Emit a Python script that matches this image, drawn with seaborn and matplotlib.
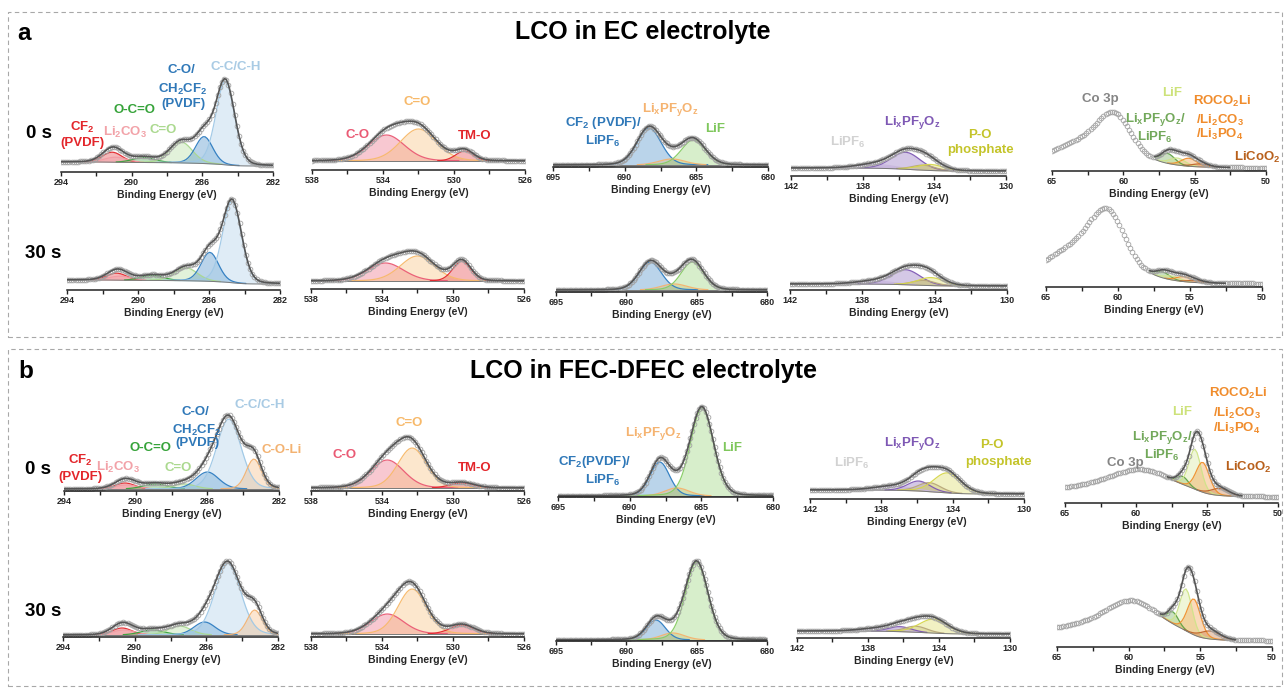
import numpy as np
import matplotlib
matplotlib.use("Agg")
import matplotlib.pyplot as plt
from matplotlib.patches import Rectangle
import seaborn as sns

# ---------------- DATA (peak fits) ----------------
# energies in eV, FWHM in eV, heights in arbitrary intensity units
C1S_TICKS = [294, 290, 286, 282]
O1S_TICKS = [538, 534, 530, 526]
F1S_TICKS = [695, 690, 685, 680]
P2P_TICKS = [142, 138, 134, 130]
CO_TICKS = [65, 60, 55, 50]

# ---- panel a, 0 s
A0_C1S_CEN = [291.1, 290.9, 289.3, 287.2, 285.9, 284.7]
A0_C1S_FWHM = [1.3, 1.5, 1.5, 1.5, 1.15, 1.25]
A0_C1S_AMP = [10, 5, 5, 21, 27, 84]
A0_C1S_BG = [10, 6]
A0_O1S_CEN = [533.8, 532.0, 529.4]
A0_O1S_FWHM = [2.4, 2.4, 1.2]
A0_O1S_AMP = [26, 32, 10]
A0_O1S_BG = [9, 9]
A0_F1S_CEN = [688.3, 686.7, 685.2]
A0_F1S_FWHM = [2.0, 2.2, 2.0]
A0_F1S_AMP = [37, 6, 25]
A0_F1S_BG = [2, 2]
A0_P2P_CEN = [137.3, 135.6, 134.6, 134.2]
A0_P2P_FWHM = [2.4, 1.9, 1.5, 1.7]
A0_P2P_AMP = [4, 17, 5, 6]
A0_P2P_BG = [8, 5]
A0_LI_CEN = [56.9, 56.2, 55.4, 54.6]
A0_LI_FWHM = [1.2, 1.3, 1.3, 1.4]
A0_LI_AMP = [10, 7, 8, 3]
A0_LI_BG = [4, 3]
A0_CO3P_CEN = [60.6, 62.4]
A0_CO3P_FWHM = [2.6, 6.0]
A0_CO3P_AMP = [34, 27]

# ---- panel a, 30 s
A1_C1S_CEN = [291.2, 291.0, 289.2, 287.3, 285.95, 284.7]
A1_C1S_FWHM = [1.3, 1.5, 1.5, 1.5, 1.15, 1.25]
A1_C1S_AMP = [7, 4, 5, 13, 29, 82]
A1_C1S_BG = [10, 6]
A1_O1S_CEN = [533.8, 532.0, 529.5]
A1_O1S_FWHM = [2.4, 2.3, 1.2]
A1_O1S_AMP = [18, 25, 20]
A1_O1S_BG = [8, 8]
A1_F1S_CEN = [688.3, 686.6, 685.3]
A1_F1S_FWHM = [1.9, 2.2, 1.9]
A1_F1S_AMP = [28, 6, 28]
A1_F1S_BG = [2, 2]
A1_P2P_CEN = [137.3, 135.6, 134.6, 134.2]
A1_P2P_FWHM = [2.4, 1.9, 1.5, 1.7]
A1_P2P_AMP = [3, 15, 5, 8]
A1_P2P_BG = [6, 4]
A1_LI_CEN = [56.9, 56.2, 55.4, 54.6]
A1_LI_FWHM = [1.2, 1.3, 1.3, 1.4]
A1_LI_AMP = [6, 4, 5, 2]
A1_LI_BG = [4, 3]
A1_CO3P_CEN = [60.7, 62.4]
A1_CO3P_FWHM = [2.7, 6.0]
A1_CO3P_AMP = [44, 38]

# ---- panel b, 0 s
B0_C1S_CEN = [290.6, 290.5, 288.9, 287.3, 286.0, 284.8, 283.4]
B0_C1S_FWHM = [1.3, 1.5, 1.6, 1.5, 1.5, 1.6, 1.0]
B0_C1S_AMP = [6, 4, 5, 5, 17, 70, 30]
B0_C1S_BG = [2, 2]
B0_O1S_CEN = [533.7, 532.3, 529.5]
B0_O1S_FWHM = [2.2, 1.9, 1.6]
B0_O1S_AMP = [28, 40, 5]
B0_O1S_BG = [3, 3]
B0_F1S_CEN = [687.9, 686.7, 684.95]
B0_F1S_FWHM = [1.6, 2.0, 1.9]
B0_F1S_AMP = [34, 8, 88]
B0_F1S_BG = [1, 1]
B0_P2P_CEN = [137.3, 135.9, 135.3, 134.3]
B0_P2P_FWHM = [2.5, 1.5, 1.5, 1.8]
B0_P2P_AMP = [4, 10, 9, 20]
B0_P2P_BG = [9, 5]
B0_LI_CEN = [56.7, 55.85, 55.3, 54.1]
B0_LI_FWHM = [0.9, 1.0, 1.1, 1.5]
B0_LI_AMP = [8, 40, 30, 7]
B0_LI_BG = [11, 6]
B0_CO3P_CEN = [59.5, 61.5]
B0_CO3P_FWHM = [4.5, 7.0]
B0_CO3P_AMP = [16, 8]

# ---- panel b, 30 s
B1_C1S_CEN = [290.7, 290.6, 289.0, 287.5, 286.1, 284.8, 283.3]
B1_C1S_FWHM = [1.3, 1.5, 1.6, 1.5, 1.4, 1.7, 1.0]
B1_C1S_AMP = [7, 5, 5, 9, 13, 72, 25]
B1_C1S_BG = [2, 2]
B1_O1S_CEN = [533.7, 532.3, 529.5]
B1_O1S_FWHM = [2.2, 1.9, 1.6]
B1_O1S_AMP = [20, 45, 9]
B1_O1S_BG = [3, 3]
B1_F1S_CEN = [687.9, 686.7, 685.0]
B1_F1S_FWHM = [1.6, 2.0, 1.9]
B1_F1S_AMP = [20, 7, 78]
B1_F1S_BG = [1, 1]
B1_P2P_CEN = [137.3, 136.2, 135.3, 134.3]
B1_P2P_FWHM = [2.5, 1.5, 1.5, 1.9]
B1_P2P_AMP = [3, 5, 6, 14]
B1_P2P_BG = [7, 4]
B1_LI_CEN = [56.9, 56.0, 55.45, 54.3]
B1_LI_FWHM = [0.9, 1.0, 1.1, 1.6]
B1_LI_AMP = [12, 42, 36, 8]
B1_LI_BG = [14, 6]
B1_CO3P_CEN = [59.7, 61.5]
B1_CO3P_FWHM = [4.0, 7.0]
B1_CO3P_AMP = [24, 10]

# ---------------- STYLE ----------------
C1S_COLORS = ['#e3262b', '#f19ca4', '#36a33a', '#a9d88f', '#2f7dc1', '#9fc8e6', '#f3b271']
O1S_COLORS = ['#ea5a74', '#f7b96a', '#e3262b']
F1S_COLORS = ['#2f7dc1', '#f5b36e', '#86cc63']
P2P_COLORS = ['#c9b8de', '#7e58b4', '#b8a77a', '#d6d64a']
LI_COLORS = ['#5fa345', '#cfe48a', '#f0902e', '#c0652a']

W, H, DPI = 1287, 691, 100
AX_H = 120

sns.set_theme(style="white")
plt.rcParams['font.family'] = ['Liberation Sans', 'DejaVu Sans']
plt.rcParams['mathtext.fontset'] = 'custom'
plt.rcParams['mathtext.rm'] = 'Liberation Sans'
plt.rcParams['mathtext.it'] = 'Liberation Sans:italic'
plt.rcParams['mathtext.bf'] = 'Liberation Sans:bold'
plt.rcParams['mathtext.default'] = 'bf'

fig = plt.figure(figsize=(W / DPI, H / DPI), dpi=DPI)


def fx(px):
    return px / W


def fy(py):
    return 1 - py / H


def pv(x, c, w, a, eta=0.15):
    d = (x - c) / w
    return a * ((1 - eta) * np.exp(-4 * np.log(2) * d ** 2) + eta / (1 + 4 * d ** 2))


def make_ax(pos, ticks):
    x0, x1, yb = pos
    ax = fig.add_axes([fx(x0), fy(yb), (x1 - x0) / W, AX_H / H])
    ax.patch.set_alpha(0)
    ax.set_xlim(max(ticks), min(ticks))
    ax.set_ylim(0, AX_H)
    for s in ['top', 'left', 'right']:
        ax.spines[s].set_visible(False)
    ax.spines['bottom'].set_color('#222222')
    ax.spines['bottom'].set_linewidth(1.1)
    ax.set_xticks(ticks)
    step = ticks[0] - ticks[1]
    ax.set_xticks([t - step / 2 for t in ticks[:-1]], minor=True)
    ax.set_xticklabels([str(t) for t in ticks], fontsize=6.5, fontweight='bold')
    ax.tick_params(axis='x', which='both', direction='out', length=3, width=1.0,
                   color='#222222', pad=1.5, bottom=True)
    ax.set_yticks([])
    return ax


def draw(ax, ticks, cen, fwhm, amp, colors, bg, co3p=None, fit_range=None, step=0.12):
    lo, hi = min(ticks), max(ticks)
    x = np.round(np.arange(lo, hi + 1e-9, step), 4)
    comps = [pv(x, c, w, a) for c, w, a in zip(cen, fwhm, amp)]
    total = np.sum(comps, axis=0)
    cum = np.cumsum(total)
    S = cum / cum[-1]
    base = bg[1] + (bg[0] - bg[1]) * S
    if co3p is not None:
        for c, w, a in zip(*co3p):
            base = base + pv(x, c, w, a)
    env = base + total
    if fit_range is None:
        fm = np.ones_like(x, dtype=bool)
    else:
        fm = (x >= fit_range[0]) & (x <= fit_range[1])
    for comp, col in zip(comps, colors):
        m = (comp > 0.3) & fm
        ax.fill_between(x, base, base + comp, where=m, color=col, alpha=0.33, lw=0)
        yy = np.where(m, base + comp, np.nan)
        ax.plot(x, yy, color=col, lw=0.9, alpha=0.95)
    ax.plot(x[fm], base[fm], color='#7a7a7a', lw=0.7)
    sns.lineplot(x=x, y=env, ax=ax, marker='o', linestyle='', markersize=3.4,
                 markerfacecolor='none', markeredgecolor='#a2a2a2', markeredgewidth=0.6,
                 estimator=None, sort=False, color='#a2a2a2')
    sns.lineplot(x=x[fm], y=env[fm], ax=ax, color='#555555', lw=1.2,
                 estimator=None, sort=False)
    ax.set_xlabel('Binding Energy (eV)', fontsize=7.5, fontweight='bold', labelpad=2)
    ax.set_ylabel('')


ROWS = [
    ([(61, 273, 172), (312, 525, 170), (553, 768, 167), (791, 1006, 176), (1052, 1266, 171)], 'A0'),
    ([(67, 280, 290), (311, 524, 289), (556, 767, 292), (790, 1007, 290), (1046, 1262, 287)], 'A1'),
    ([(64, 279, 491), (311, 524, 491), (558, 773, 497), (810, 1024, 499), (1065, 1278, 503)], 'B0'),
    ([(63, 278, 637), (311, 524, 637), (556, 767, 641), (797, 1010, 638), (1057, 1272, 647)], 'B1'),
]
G = globals()
for poss, key in ROWS:
    ax = make_ax(poss[0], C1S_TICKS)
    draw(ax, C1S_TICKS, G[key + '_C1S_CEN'], G[key + '_C1S_FWHM'], G[key + '_C1S_AMP'],
         C1S_COLORS, G[key + '_C1S_BG'])
    ax = make_ax(poss[1], O1S_TICKS)
    draw(ax, O1S_TICKS, G[key + '_O1S_CEN'], G[key + '_O1S_FWHM'], G[key + '_O1S_AMP'],
         O1S_COLORS, G[key + '_O1S_BG'])
    ax = make_ax(poss[2], F1S_TICKS)
    draw(ax, F1S_TICKS, G[key + '_F1S_CEN'], G[key + '_F1S_FWHM'], G[key + '_F1S_AMP'],
         F1S_COLORS, G[key + '_F1S_BG'])
    ax = make_ax(poss[3], P2P_TICKS)
    draw(ax, P2P_TICKS, G[key + '_P2P_CEN'], G[key + '_P2P_FWHM'], G[key + '_P2P_AMP'],
         P2P_COLORS, G[key + '_P2P_BG'])
    ax = make_ax(poss[4], CO_TICKS)
    draw(ax, CO_TICKS, G[key + '_LI_CEN'], G[key + '_LI_FWHM'], G[key + '_LI_AMP'],
         LI_COLORS, G[key + '_LI_BG'],
         co3p=(G[key + '_CO3P_CEN'], G[key + '_CO3P_FWHM'], G[key + '_CO3P_AMP']),
         fit_range=(52.5, 57.8), step=0.15)

# ---------------- frames, titles, labels ----------------
for (top, bot) in [(12, 337), (349, 686)]:
    fig.add_artist(Rectangle((fx(8), fy(bot)), (1282 - 8) / W, (bot - top) / H, fill=False,
                             ls=(0, (4, 3)), lw=0.8, ec='#a8a8a8', transform=fig.transFigure))


def T(x, y, s, c='black', fs=9.5, **kw):
    fig.text(fx(x), fy(y), s, color=c, fontsize=fs, fontweight='bold', ha='center', va='center', **kw)


T(643, 32, 'LCO in EC electrolyte', fs=18)
T(643, 371, 'LCO in FEC-DFEC electrolyte', fs=18)
T(24, 33, 'a', fs=17.5)
T(26, 371, 'b', fs=17.5)
T(39, 133, '0 s', fs=13.5)
T(43, 253, '30 s', fs=13.5)
T(38, 470, '0 s', fs=13.5)
T(43, 612, '30 s', fs=13.5)

# panel a labels
T(236, 67, 'C-C/C-H', '#a9cbe4')
T(181, 70, 'C-O/', '#2f78b8')
T(183, 89, 'CH$_2$CF$_2$', '#2f78b8')
T(183, 104, '(PVDF)', '#2f78b8')
T(135, 110, 'O-C=O', '#36a33a')
T(82, 127, 'CF$_2$', '#e3262b')
T(82, 143, '(PVDF)', '#e3262b')
T(125, 132, 'Li$_2$CO$_3$', '#f2a2a8')
T(163, 130, 'C=O', '#abd98f')
T(417, 102, 'C=O', '#f7b96a')
T(358, 135, 'C-O', '#ea5a74')
T(475, 136, 'TM-O', '#e3262b')
T(670, 110, 'Li$_x$PF$_y$O$_z$', '#f5b370')
T(603, 123, 'CF$_2$ (PVDF)/', '#2f78b8')
T(603, 141, 'LiPF$_6$', '#2f78b8')
T(715, 129, 'LiF', '#7fc75c')
T(912, 123, 'Li$_x$PF$_y$O$_z$', '#7e58b4')
T(848, 142, 'LiPF$_6$', '#d2d2d2')
T(980, 135, 'P-O', '#c4c42a')
T(980, 150, 'phosphate', '#c4c42a')
T(1100, 99, 'Co 3p', '#858585')
T(1172, 93, 'LiF', '#cde27a')
T(1222, 101, 'ROCO$_2$Li', '#f08c2c')
T(1220, 120, '/Li$_2$CO$_3$', '#f08c2c')
T(1220, 134, '/Li$_3$PO$_4$', '#f08c2c')
T(1155, 120, 'Li$_x$PF$_y$O$_z$/', '#72a85a')
T(1155, 137, 'LiPF$_6$', '#72a85a')
T(1257, 157, 'LiCoO$_2$', '#b8601c')

# panel b labels
T(260, 405, 'C-C/C-H', '#a9cbe4')
T(195, 412, 'C-O/', '#2f78b8')
T(197, 430, 'CH$_2$CF$_2$', '#2f78b8')
T(197, 443, '(PVDF)', '#2f78b8')
T(150, 448, 'O-C=O', '#36a33a')
T(178, 468, 'C=O', '#abd98f')
T(80, 460, 'CF$_2$', '#e3262b')
T(80, 477, '(PVDF)', '#e3262b')
T(118, 467, 'Li$_2$CO$_3$', '#f2a2a8')
T(282, 450, 'C-O-Li', '#f3b271')
T(409, 423, 'C=O', '#f7b96a')
T(345, 455, 'C-O', '#ea5a74')
T(475, 468, 'TM-O', '#e3262b')
T(653, 433, 'Li$_x$PF$_y$O$_z$', '#f5b370')
T(732, 448, 'LiF', '#7fc75c')
T(595, 462, 'CF$_2$(PVDF)/', '#2f78b8')
T(603, 480, 'LiPF$_6$', '#2f78b8')
T(912, 443, 'Li$_x$PF$_y$O$_z$', '#7e58b4')
T(852, 463, 'LiPF$_6$', '#d2d2d2')
T(992, 445, 'P-O', '#c4c42a')
T(998, 462, 'phosphate', '#c4c42a')
T(1238, 393, 'ROCO$_2$Li', '#f08c2c')
T(1237, 413, '/Li$_2$CO$_3$', '#f08c2c')
T(1237, 428, '/Li$_3$PO$_4$', '#f08c2c')
T(1182, 412, 'LiF', '#cde27a')
T(1162, 438, 'Li$_x$PF$_y$O$_z$/', '#72a85a')
T(1162, 455, 'LiPF$_6$', '#72a85a')
T(1125, 463, 'Co 3p', '#858585')
T(1248, 467, 'LiCoO$_2$', '#b8601c')

fig.savefig('out.png', dpi=DPI)
